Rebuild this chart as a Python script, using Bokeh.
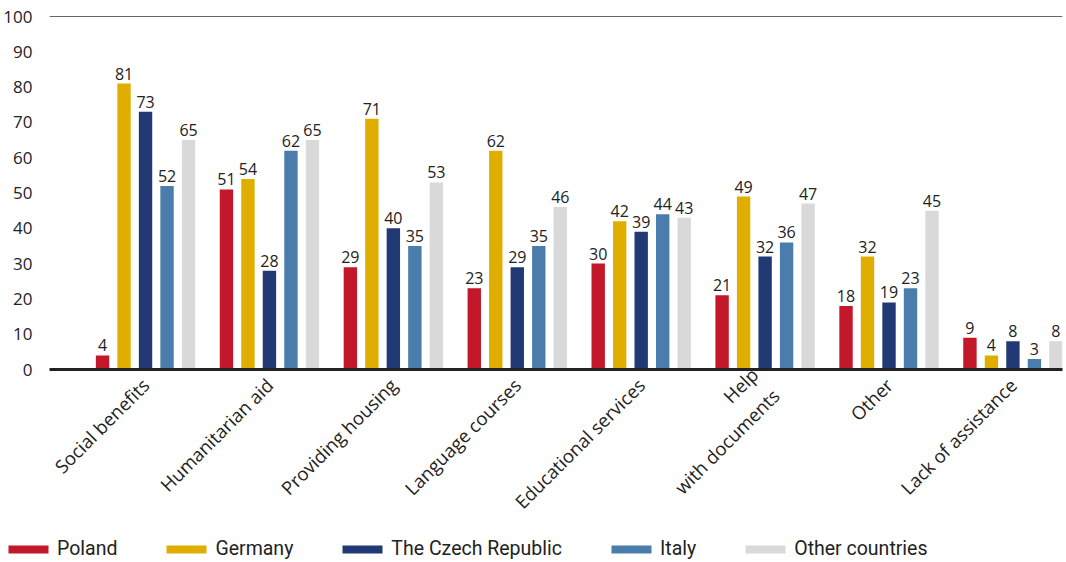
import math
from bokeh.plotting import figure
from bokeh.layouts import column, row
from bokeh.models import ColumnDataSource, FixedTicker, Span, Legend, LegendItem, Range1d
from bokeh.transform import dodge
from bokeh.core.properties import value
from bokeh.embed import file_html
from bokeh.resources import INLINE

categories = ["Social benefits", "Humanitarian aid", "Providing housing", "Language courses",
              "Educational services", "Help\nwith documents", "Other", "Lack of assistance"]
series_names = ["Poland", "Germany", "The Czech Republic", "Italy", "Other countries"]
poland = [4, 51, 29, 23, 30, 21, 18, 9]
germany = [81, 54, 71, 62, 42, 49, 32, 4]
czech = [73, 28, 40, 29, 39, 32, 19, 8]
italy = [52, 62, 35, 35, 44, 36, 23, 3]
other = [65, 65, 53, 46, 43, 47, 45, 8]
colors = ["#C3172A", "#DFAE00", "#213A73", "#4A7DAC", "#D9D9D9"]
y_ticks = [0, 10, 20, 30, 40, 50, 60, 70, 80, 90, 100]

series = [poland, germany, czech, italy, other]
idx = list(range(len(categories)))
data = {"idx": idx}
keys = ["poland", "germany", "czech", "italy", "other"]
for k, s in zip(keys, series):
    data[k] = s
    data[k + "_lbl"] = [str(v) for v in s]
source = ColumnDataSource(data)

p = figure(width=1066, height=536, output_backend="svg", toolbar_location=None,
           x_range=Range1d(-0.775, 7.40), y_range=Range1d(0, 101.7),
           min_border_left=49, min_border_right=4, min_border_top=10, min_border_bottom=167)
p.outline_line_color = None
p.xgrid.visible = False
p.ygrid.visible = False

step = 0.1735
bw = 0.108
for i, (k, c) in enumerate(zip(keys, colors)):
    off = (i - 2) * step
    p.vbar(x=dodge("idx", off, range=p.x_range), top=k, width=bw, bottom=0,
           source=source, fill_color=c, line_color=None)
    p.text(x=dodge("idx", off, range=p.x_range), y=k, text=k + "_lbl", source=source,
           text_align="center", text_baseline="bottom", y_offset=-4,
           text_font=value("Open Sans"), text_font_size="16px", text_color="#222222")

p.add_layout(Span(location=100, dimension="width", line_color="#666666", line_width=1))

# y axis
p.yaxis.ticker = FixedTicker(ticks=y_ticks)
p.yaxis.axis_line_color = None
p.yaxis.major_tick_line_color = None
p.yaxis.minor_tick_line_color = None
p.yaxis.major_label_standoff = 11
p.yaxis.major_label_text_font = "Open Sans"
p.yaxis.major_label_text_font_size = "17px"
p.yaxis.major_label_text_color = "#222222"

# x axis
p.xaxis.ticker = FixedTicker(ticks=idx)
p.xaxis.major_label_overrides = {i: c for i, c in zip(idx, categories)}
p.xaxis.major_label_orientation = math.pi / 4
p.xaxis.axis_line_color = "#222222"
p.xaxis.axis_line_width = 3
p.xaxis.major_tick_line_color = None
p.xaxis.minor_tick_line_color = None
p.xaxis.major_label_standoff = 6
p.xaxis.major_label_text_font = "Open Sans"
p.xaxis.major_label_text_font_size = "18.5px"
p.xaxis.major_label_text_color = "#222222"

# legend strip
lg = figure(width=1066, height=26, output_backend="svg", toolbar_location=None,
            x_range=Range1d(0, 1), y_range=Range1d(0, 1), x_axis_type=None, y_axis_type=None,
            min_border=0, min_border_left=0, min_border_right=0, min_border_top=0, min_border_bottom=0)
lg.outline_line_color = None
empty_bar = ColumnDataSource(dict(x=[0.5], top=[0]))
items = []
for name, c in zip(series_names, colors):
    r = lg.vbar(x="x", top="top", bottom=0, width=0.1, source=empty_bar, fill_color=c, line_color=None)
    items.append(LegendItem(label=name, renderers=[r]))
legend = Legend(items=items, orientation="horizontal", location=(3, 2),
                glyph_width=50, glyph_height=10, label_standoff=4, spacing=44,
                label_text_font="Roboto", label_text_font_size="19.5px",
                label_text_color="#222222", border_line_color=None,
                background_fill_alpha=0, margin=0, padding=0)
lg.add_layout(legend, "center")

layout = column(p, row(lg), spacing=0)
open("out.html", "w").write(file_html(layout, INLINE))
